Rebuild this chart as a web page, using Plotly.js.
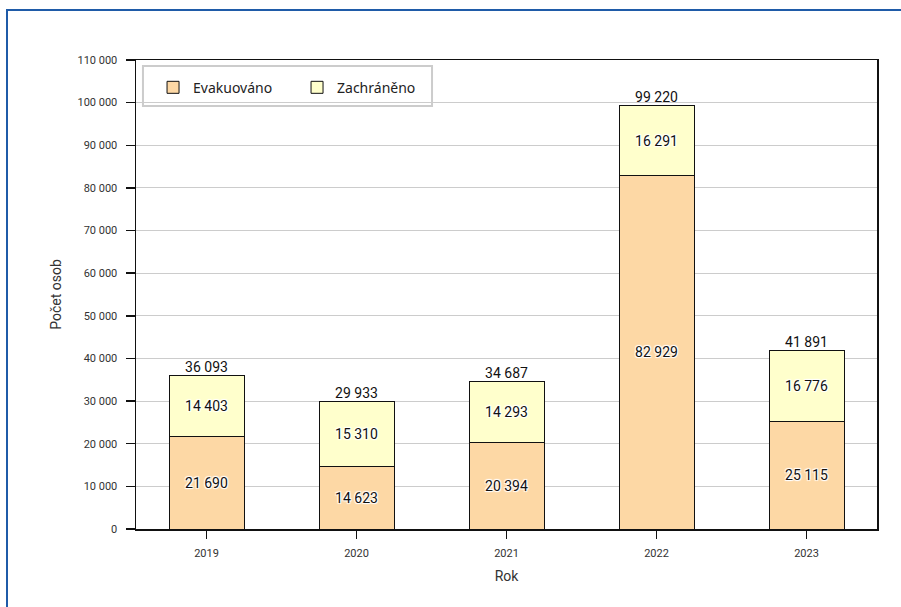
<!DOCTYPE html>
<html>
<head>
<meta charset="utf-8">
<script src="https://cdn.plot.ly/plotly-3.0.1.min.js"></script>
<style>
html,body{margin:0;padding:0;background:#fff;width:901px;height:607px;overflow:hidden;}
#frame{position:absolute;left:6px;top:9px;width:900px;height:610px;border:2px solid #1f5ba8;box-sizing:border-box;}
#chart{position:absolute;left:0;top:0;width:901px;height:607px;}
</style>
</head>
<body>
<div id="frame"></div>
<div id="chart"></div>
<script>
const years = ['2019', '2020', '2021', '2022', '2023'];
const evakuovano = [21690, 14623, 20394, 82929, 25115];
const zachraneno = [14403, 15310, 14293, 16291, 16776];
const totals = years.map((_, i) => evakuovano[i] + zachraneno[i]);

const numFont = 'Roboto, sans-serif';
const halo = '1px 1px 1px #fff, -1px -1px 1px #fff, 1px -1px 1px #fff, -1px 1px 1px #fff';

const traces = [
  {
    type: 'bar', name: 'Evakuováno', x: years, y: evakuovano,
    marker: {color: '#fdd8a5', line: {color: '#111', width: 1}},
    texttemplate: '%{y:,d}', textposition: 'inside', insidetextanchor: 'middle',
    textfont: {family: numFont, size: 14, color: '#111', shadow: halo},
    hoverinfo: 'skip'
  },
  {
    type: 'bar', name: 'Zachráněno', x: years, y: zachraneno,
    marker: {color: '#ffffcc', line: {color: '#111', width: 1}},
    texttemplate: '%{y:,d}', textposition: 'inside', insidetextanchor: 'middle',
    textfont: {family: numFont, size: 14, color: '#111', shadow: halo},
    hoverinfo: 'skip'
  },
  {
    type: 'scatter', mode: 'text', x: years, y: totals, showlegend: false,
    texttemplate: '%{y:,d}', textposition: 'top center',
    textfont: {family: numFont, size: 14, color: '#111'}, hoverinfo: 'skip', cliponaxis: false
  }
];

const layout = {
  width: 901, height: 607,
  margin: {l: 136, r: 24, t: 60, b: 78},
  paper_bgcolor: 'rgba(0,0,0,0)', plot_bgcolor: '#fff',
  separators: ', ',
  barmode: 'stack', bargap: 0.5,
  showlegend: true,
  legend: {
    orientation: 'h', x: 0.023, y: 0.975, xanchor: 'left', yanchor: 'top',
    bgcolor: 'rgba(0,0,0,0)', borderwidth: 0,
    font: {family: '"Noto Sans", sans-serif', size: 14, color: '#222'},
    entrywidth: 99, entrywidthmode: 'pixels', traceorder: 'normal'
  },
  shapes: [{
    type: 'rect', xref: 'paper', yref: 'paper', layer: 'above',
    x0: 0.0094, x1: 0.3995, y0: 0.9019, y1: 0.9872,
    fillcolor: 'rgba(0,0,0,0)', line: {color: '#cccccc', width: 2}
  }],
  xaxis: {
    type: 'category', range: [-0.47, 4.47],
    showline: true, linecolor: '#111', linewidth: 1.5, mirror: true,
    ticks: 'outside', ticklen: 8, tickcolor: '#111', tickwidth: 1.5,
    ticklabelstandoff: 5,
    tickfont: {family: numFont, size: 11, color: '#333'},
    title: {text: 'Rok', font: {family: numFont, size: 14, color: '#333'}, standoff: 12},
    showgrid: false
  },
  yaxis: {
    range: [0, 110000], dtick: 10000, tickformat: ',d',
    showline: true, linecolor: '#111', linewidth: 1.5, mirror: true,
    ticks: 'outside', ticklen: 9, tickcolor: '#111', tickwidth: 1.5,
    ticklabelstandoff: 6,
    tickfont: {family: numFont, size: 11, color: '#333'},
    gridcolor: '#cccccc', gridwidth: 1, zeroline: false,
    title: {text: 'Počet osob', font: {family: numFont, size: 14, color: '#333'}, standoff: 12}
  }
};

Plotly.newPlot('chart', traces, layout, {displayModeBar: false, staticPlot: true});
</script>
</body>
</html>
